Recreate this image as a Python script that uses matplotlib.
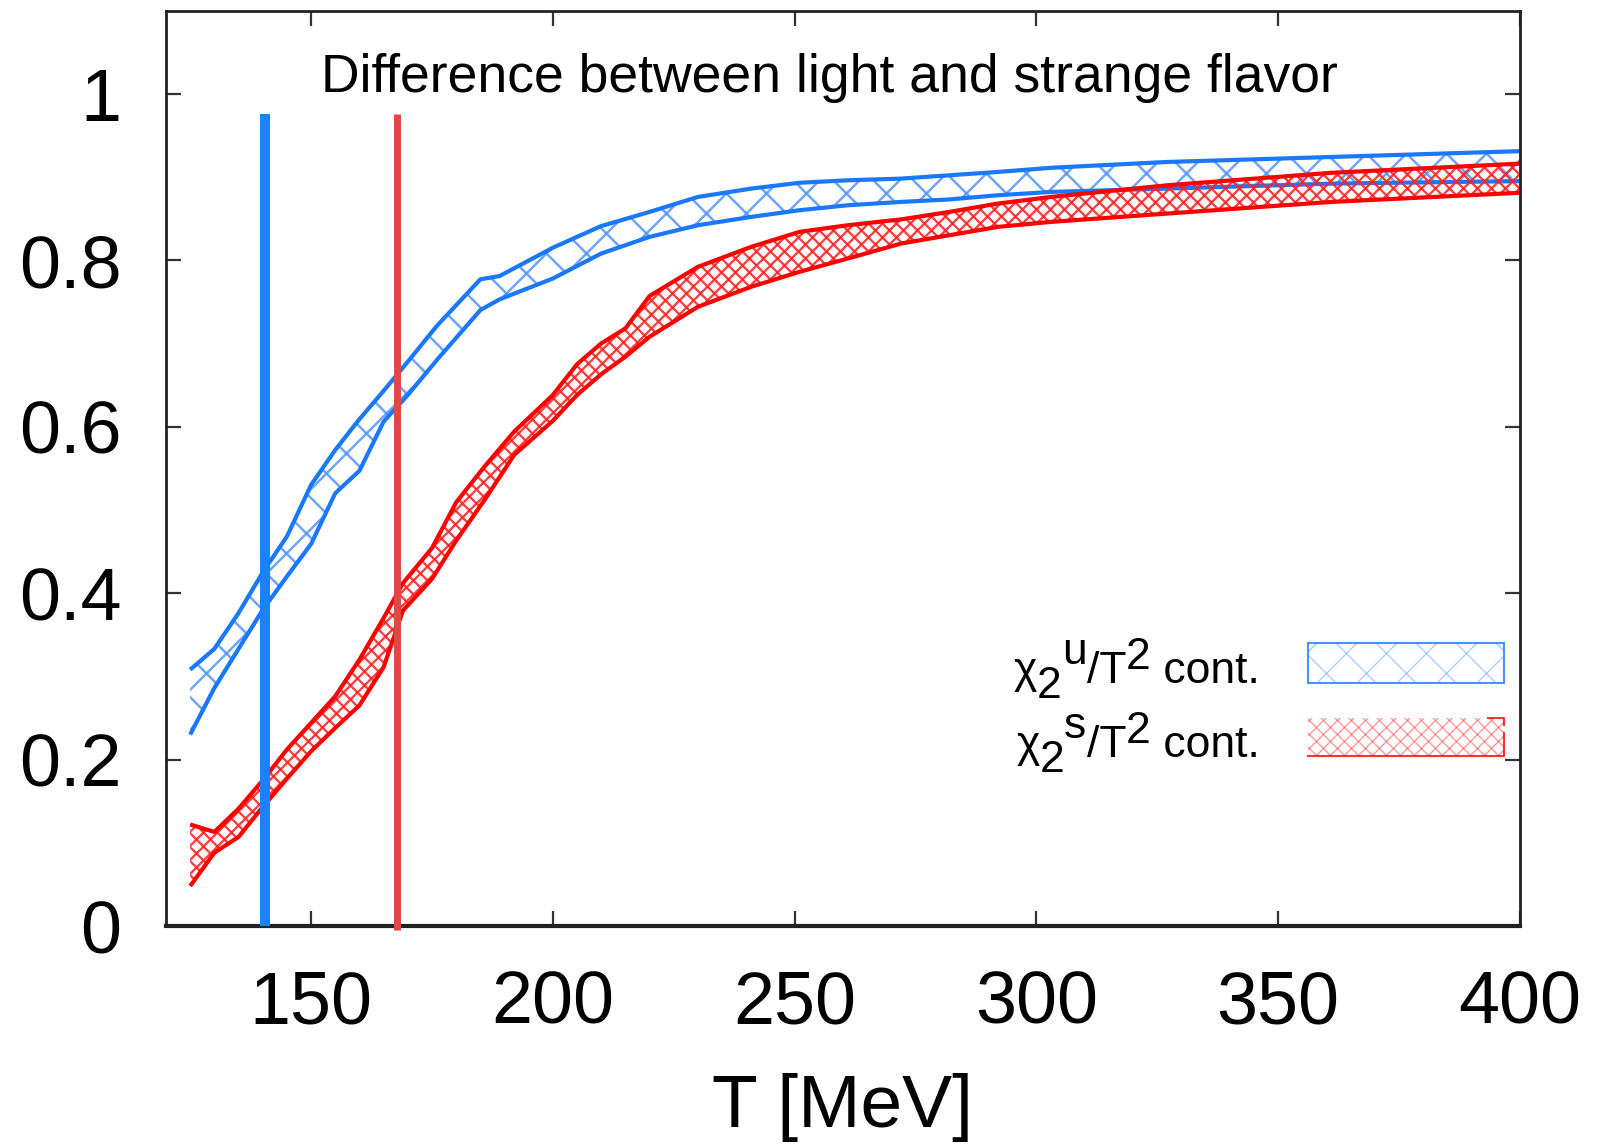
import numpy as np
import matplotlib
matplotlib.use("Agg")
import matplotlib.pyplot as plt
from matplotlib.collections import LineCollection
from matplotlib.patches import Rectangle
from matplotlib.transforms import IdentityTransform, offset_copy

plt.rcParams['font.family'] = ['Liberation Sans', 'DejaVu Sans']

# ---- data ----
T_u = [125, 130, 135, 140, 145, 150, 155, 160, 165, 170, 176, 185, 189, 200,
       210, 220, 230, 241, 251, 261, 272, 282, 292, 303, 327, 361, 400]
chi_u_hi = [0.308, 0.333, 0.376, 0.425, 0.468, 0.530, 0.572, 0.609, 0.643, 0.678,
            0.721, 0.777, 0.781, 0.815, 0.841, 0.858, 0.876, 0.886, 0.893, 0.896,
            0.898, 0.902, 0.906, 0.911, 0.918, 0.924, 0.931]
chi_u_lo = [0.230, 0.286, 0.333, 0.380, 0.420, 0.459, 0.520, 0.547, 0.606, 0.638,
            0.680, 0.740, 0.753, 0.778, 0.808, 0.828, 0.842, 0.852, 0.860, 0.866,
            0.870, 0.873, 0.878, 0.882, 0.886, 0.892, 0.895]

T_s = [125, 130, 135, 140, 145, 150, 155, 160, 165, 169, 175, 180, 186, 192,
       200, 205, 210, 215, 220, 230, 241, 251, 261, 272, 282, 292, 303, 327, 361, 400]
chi_s_hi = [0.122, 0.113, 0.141, 0.175, 0.212, 0.244, 0.276, 0.320, 0.370, 0.412,
            0.454, 0.509, 0.553, 0.594, 0.638, 0.675, 0.700, 0.718, 0.757, 0.792,
            0.816, 0.834, 0.842, 0.849, 0.858, 0.868, 0.876, 0.890, 0.905, 0.916]
chi_s_lo = [0.048, 0.088, 0.107, 0.143, 0.177, 0.210, 0.238, 0.265, 0.311, 0.379,
            0.417, 0.463, 0.513, 0.566, 0.607, 0.638, 0.663, 0.684, 0.708, 0.744,
            0.768, 0.786, 0.802, 0.820, 0.830, 0.840, 0.846, 0.856, 0.870, 0.881]

Tc_light = 140.5
Tc_strange = 167.7

x_ticks = [150, 200, 250, 300, 350, 400]
y_ticks = [0, 0.2, 0.4, 0.6, 0.8, 1.0]
y_ticklabels = ['0', '0.2', '0.4', '0.6', '0.8', '1']

title_text = 'Difference between light and strange flavor'
xlabel_text = 'T [MeV]'
# legend labels as (text, vertical shift in points) pieces: chi_2^u/T^2 cont.
label_u = [('χ', 0), ('2', -10.5), ('u', 14.0), ('/T', 0), ('2', 10.0), (' cont.', 0)]
label_s = [('χ', 0), ('2', -10.5), ('s', 14.0), ('/T', 0), ('2', 10.0), (' cont.', 0)]

BLUE = '#1a78ff'
BLUE_HATCH = '#4a90ff'
RED = '#ff0000'
RED_HATCH = '#ff2020'
BLUE_V = '#1a82ff'
RED_V = '#e04848'

W, H = 1598, 1147
fig = plt.figure(figsize=(W / 100, H / 100), dpi=100)
ax = fig.add_axes([166 / W, 1 - 926 / H, (1520 - 166) / W, (926 - 10.5) / H])
ax.set_xlim(120, 400)
ax.set_ylim(0, 1.1)


def hatch_lines(spacing):
    segs = []
    span = W + H
    c = -H
    while c < W + H:
        segs.append([(c, 0), (c + span, span)])
        segs.append([(c, H), (c + span, H - span)])
        c += spacing
    return segs


def band(x, lo, hi, edge, hcolor, spacing, hlw, halpha):
    poly = ax.fill_between(x, lo, hi, facecolor='none', edgecolor='none', linewidth=0)
    lc = LineCollection(hatch_lines(spacing), colors=hcolor, linewidths=hlw,
                        alpha=halpha, transform=IdentityTransform())
    ax.add_collection(lc, autolim=False)
    lc.set_clip_path(poly.get_paths()[0], ax.transData)
    ax.plot(x, lo, color=edge, lw=3.0, solid_joinstyle='round', solid_capstyle='butt')
    ax.plot(x, hi, color=edge, lw=3.0, solid_joinstyle='round', solid_capstyle='butt')


band(T_u, chi_u_lo, chi_u_hi, BLUE, BLUE_HATCH, 40, 1.8, 0.8)
band(T_s, chi_s_lo, chi_s_hi, RED, RED_HATCH, 14, 1.7, 0.85)

ax.set_xlim(120, 400)
ax.set_ylim(0, 1.1)

ax.plot([Tc_light, Tc_light], [0, 0.976], color=BLUE_V, lw=7.2, solid_capstyle='butt', zorder=5)
ax.plot([Tc_strange, Tc_strange], [-0.005, 0.976], color=RED_V, lw=5.0,
        solid_capstyle='butt', clip_on=False, zorder=5)

ax.set_xticks(x_ticks)
ax.set_yticks(y_ticks)
ax.set_yticklabels(y_ticklabels)
ax.tick_params(direction='in', top=True, right=True, length=11, width=1.6,
               labelsize=53, colors='#333333', labelcolor='black')
ax.tick_params(axis='x', pad=31)
ax.tick_params(axis='y', pad=32)
for s in ax.spines.values():
    s.set_linewidth(2.0)
    s.set_color('#222222')
ax.spines['bottom'].set_linewidth(3.0)

ax.set_xlabel(xlabel_text, fontsize=54, labelpad=25)

ax.text(0.49, 0.911, title_text, transform=ax.transAxes, ha='center',
        va='baseline', fontsize=38.5)


def rich_label(x_right, y_base, pieces, fs):
    text, dy = pieces[-1]
    prev = ax.text(x_right, y_base, text, ha='right', va='baseline', fontsize=fs,
                   transform=offset_copy(ax.transAxes, fig=fig, x=0, y=dy, units='points'))
    for text, dy in reversed(pieces[:-1]):
        prev = ax.annotate(text, xy=(0, y_base), xycoords=(prev, ax.transAxes),
                           xytext=(0, dy), textcoords='offset points',
                           ha='right', va='baseline', fontsize=fs)


rich_label(0.8077, 0.2654, label_u, 32)
rich_label(0.8077, 0.1846, label_s, 32)

for (y0, y1, edge, hcolor, spacing, full_edge) in [
        (0.2654, 0.3091, BLUE, BLUE_HATCH, 40, True),
        (0.1857, 0.2272, RED, RED_HATCH, 14, False)]:
    x0, x1 = 0.8432, 0.988
    r = Rectangle((x0, y0), x1 - x0, y1 - y0, transform=ax.transAxes,
                  facecolor='none', edgecolor='none')
    ax.add_patch(r)
    lc = LineCollection(hatch_lines(spacing), colors=hcolor, linewidths=1.0,
                        alpha=0.45, transform=IdentityTransform())
    ax.add_collection(lc, autolim=False)
    lc.set_clip_path(r)
    if full_edge:
        ax.add_patch(Rectangle((x0, y0), x1 - x0, y1 - y0, transform=ax.transAxes,
                               facecolor='none', edgecolor=edge, lw=1.5, alpha=0.8))
    else:
        ax.plot([x0, x1, x1], [y0, y0, y0 + 0.6 * (y1 - y0)], transform=ax.transAxes,
                color=edge, lw=1.5, alpha=0.8)
        ax.plot([x1 - 0.012, x1, x1], [y1, y1, y1 - 0.008], transform=ax.transAxes,
                color=edge, lw=1.5, alpha=0.8)

fig.savefig('out.png', dpi=100)
